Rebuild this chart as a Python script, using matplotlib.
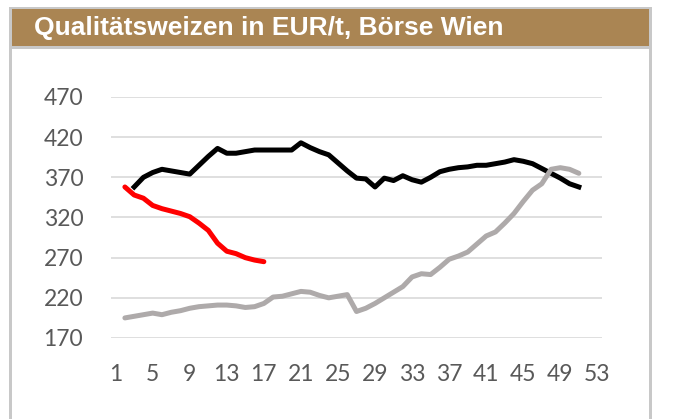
import numpy as np
import matplotlib
matplotlib.use("Agg")
import matplotlib.pyplot as plt
from matplotlib.patches import Rectangle

# weekly prices (EUR/t), calendar weeks 1..53
weeks = np.arange(1, 54)

# black series: weeks 3..51
black_start = 3
black_vals = [358, 370, 376, 380, 378, 376, 374, 385, 396, 406,
              400, 400, 402, 404, 404, 404, 404, 404, 413, 407,
              402, 398, 388, 378, 369, 368, 358, 369, 366, 372,
              367, 364, 370, 377, 380, 382, 383, 385, 385, 387,
              389, 392, 390, 387, 381, 375, 369, 362, 358]

# gray series: weeks 2..51
gray_start = 2
gray_vals = [195, 197, 199, 201, 199, 202, 204, 207, 209, 210,
             211, 211, 210, 208, 209, 213, 221, 222, 225, 228,
             227, 223, 220, 222, 224, 203, 207, 213, 220, 227,
             234, 246, 250, 249, 258, 268, 272, 277, 287, 297,
             302, 313, 325, 340, 354, 362, 380, 382, 380, 375]

# red series: weeks 2..17
red_start = 2
red_vals = [358, 348, 344, 335, 331, 328, 325, 321, 313, 304,
            288, 278, 275, 270, 267, 265]

yticks = [170, 220, 270, 320, 370, 420, 470]
xticks = list(range(1, 54, 4))
title = "Qualitätsweizen in EUR/t, Börse Wien"

W, H = 677, 419
fig = plt.figure(figsize=(W / 100, H / 100), dpi=100)
fig.patch.set_facecolor("white")


def px_rect(x0, y0, x1, y1, color):
    # rectangle given in pixel coords (origin top-left)
    fig.add_artist(Rectangle((x0 / W, 1 - y1 / H), (x1 - x0) / W, (y1 - y0) / H,
                             transform=fig.transFigure, facecolor=color,
                             edgecolor="none", zorder=0))


border = "#c8c8c8"
px_rect(9, 7, 652, 9.5, border)
px_rect(9, 7, 12, H + 5, border)
px_rect(649, 7, 652, H + 5, border)
px_rect(12, 9.5, 649, 45.7, "#aa8553")
px_rect(12, 45.7, 649, 48.7, border)

fig.text(34 / W, 1 - 28 / H, title, color="white", fontsize=19,
         fontweight="bold", family="Liberation Sans", va="center", ha="left")

left, right = 111 / W, 602 / W
bottom, top = 1 - 338 / H, 1 - 97 / H
ax = fig.add_axes([left, bottom, right - left, top - bottom])
ax.set_facecolor("none")

lw = 3.6
ax.plot(np.arange(black_start, black_start + len(black_vals)), black_vals,
        color="black", lw=lw, solid_joinstyle="round", zorder=3)
ax.plot(np.arange(gray_start, gray_start + len(gray_vals)), gray_vals,
        color="#aeaaaa", lw=lw, solid_joinstyle="round",
        solid_capstyle="round", zorder=4)
ax.plot(np.arange(red_start, red_start + len(red_vals)), red_vals,
        color="#ff0000", lw=lw, solid_joinstyle="round",
        solid_capstyle="round", zorder=5)

ax.set_xlim(0.5, 53.5)
ax.set_ylim(170, 470)
ax.set_yticks(yticks)
ax.set_xticks(xticks)
ax.grid(axis="y", color="#d9d9d9", lw=1.2, zorder=0)
ax.set_axisbelow(True)
for s in ax.spines.values():
    s.set_visible(False)
ax.tick_params(length=0, labelsize=16.5, labelcolor="#595959")
ax.tick_params(axis="y", pad=20)
ax.tick_params(axis="x", pad=19)
for lab in ax.get_xticklabels() + ax.get_yticklabels():
    lab.set_family("Lato")

fig.savefig("out.png", dpi=100)
